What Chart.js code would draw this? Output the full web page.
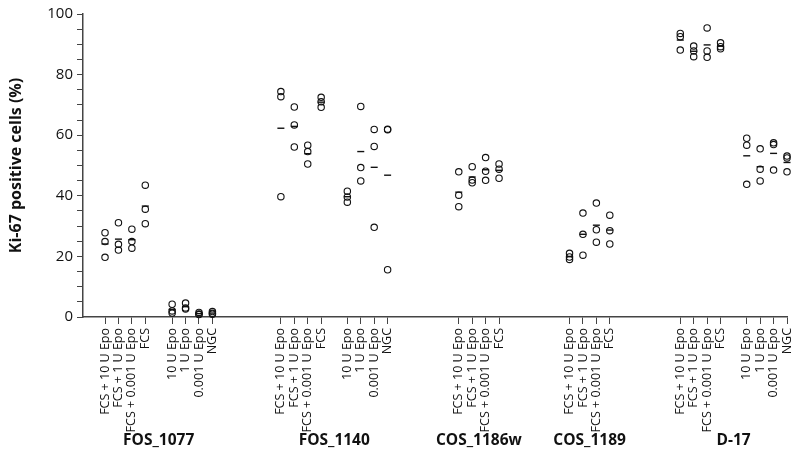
<!DOCTYPE html>
<html>
<head>
<meta charset="utf-8">
<script src="https://cdn.jsdelivr.net/npm/chart.js@4"></script>
<style>
  body { margin: 0; background: #fff; }
  #wrap { width: 800px; height: 460px; }
</style>
</head>
<body>
<div id="wrap"><canvas id="chart"></canvas></div>
<script>
// ── Data ─────────────────────────────────────────────
const groups = ['FOS_1077', 'FOS_1140', 'COS_1186w', 'COS_1189', 'D-17'];
const fcsLabels   = ['FCS + 10 U Epo', 'FCS + 1 U Epo', 'FCS + 0.001 U Epo', 'FCS'];
const noFcsLabels = ['10 U Epo', '1 U Epo', '0.001 U Epo', 'NGC'];

// three replicates per condition
const fos1077 = [[27.8, 24.9, 19.7], [31.1, 24.0, 22.1], [29.0, 24.9, 22.7], [43.5, 35.6, 30.8],
                 [4.2, 2.0, 1.3], [4.6, 3.0, 2.6], [1.5, 1.0, 0.8], [1.8, 1.2, 0.9]];
const fos1140 = [[74.4, 72.7, 39.7], [69.3, 63.4, 56.1], [56.7, 54.6, 50.5], [72.5, 71.0, 69.2],
                 [41.5, 39.6, 37.9], [69.5, 49.3, 44.9], [61.9, 56.3, 29.6], [62.0, 61.8, 15.6]];
const cos1186w = [[47.9, 40.2, 36.4], [49.6, 45.2, 44.3], [52.6, 48.1, 45.1], [50.5, 48.8, 45.8]];
const cos1189  = [[21.0, 19.8, 19.0], [34.3, 27.3, 20.4], [37.6, 28.8, 24.7], [33.6, 28.5, 24.1]];
const d17 = [[93.6, 92.5, 88.1], [89.4, 87.8, 85.9], [95.4, 87.8, 85.7], [90.5, 89.2, 88.5],
             [59.0, 56.7, 43.8], [55.5, 48.8, 44.9], [57.5, 56.9, 48.5], [53.1, 52.5, 47.9]];

// group means (the short dashes)
const means1077  = [24.1, 25.7, 25.5, 36.6, 2.5, 3.4, 1.1, 1.3];
const means1140  = [62.3, 62.9, 53.9, 70.9, 39.7, 54.6, 49.4, 46.8];
const means1186w = [41.2, 46.2, 48.6, 48.4];
const means1189  = [19.9, 27.3, 30.3, 28.7];
const meansD17   = [91.4, 87.7, 89.8, 89.4, 53.2, 49.6, 54.0, 51.0];

const yTicks = [0, 20, 40, 60, 80, 100];

// ── Layout: slot position of each condition on the x axis ──
const groupCats  = [fcsLabels.concat(noFcsLabels), fcsLabels.concat(noFcsLabels), fcsLabels, fcsLabels, fcsLabels.concat(noFcsLabels)];
const groupVals  = [fos1077, fos1140, cos1186w, cos1189, d17];
const groupMeans = [means1077, means1140, means1186w, means1189, meansD17];
const groupStart = [0, 13.1, 26.35, 34.6, 42.85];
const subGap = [2, 1.95, 0, 0, 1.95];  // spacing between FCS block and non-FCS block
const X_MIN = -1.64, X_MAX = 50.8;

const categories = [], slotX = [], catGroup = [];
groupCats.forEach((cats, g) => {
  cats.forEach((c, i) => {
    categories.push(c);
    // round so the last slot doesn't drift past X_MAX (sorted data gets range-culled)
    slotX.push(Math.round((groupStart[g] + i + (i >= 4 ? subGap[g] - 1 : 0)) * 100) / 100);
    catGroup.push(g);
  });
});

const points = [], meanPts = [];
let k = 0;
groupVals.forEach((vals, g) => {
  vals.forEach((reps, i) => {
    reps.forEach(v => points.push({ x: slotX[k], y: v }));
    meanPts.push({ x: slotX[k], y: groupMeans[g][i] });
    k++;
  });
});

Chart.defaults.font.family = '"Open Sans", "Noto Sans", sans-serif';
Chart.defaults.color = '#111';

const AXIS = '#444';

const groupLabels = {
  id: 'groupLabels',
  afterDraw(chart) {
    const { ctx, scales: { x } } = chart;
    ctx.save();
    ctx.font = 'bold 15.5px "Open Sans", "Noto Sans", sans-serif';
    ctx.fillStyle = '#111';
    ctx.textAlign = 'center';
    ctx.textBaseline = 'middle';
    groups.forEach((name, g) => {
      const xs = slotX.filter((_, i) => catGroup[i] === g);
      const mid = (Math.min(...xs) + Math.max(...xs)) / 2;
      ctx.fillText(name, x.getPixelForValue(mid), 441);
    });
    ctx.restore();
  }
};

new Chart(document.getElementById('chart'), {
  type: 'scatter',
  data: {
    datasets: [
      {
        data: meanPts,
        pointStyle: 'line',
        radius: 3.5,
        borderColor: '#111',
        borderWidth: 1.4,
        clip: false,
      },
      {
        data: points,
        pointStyle: 'circle',
        radius: 3.2,
        borderColor: '#111',
        backgroundColor: 'rgba(0,0,0,0)',
        borderWidth: 1.1,
        clip: false,
      },
    ],
  },
  options: {
    responsive: true,
    maintainAspectRatio: false,
    animation: false,
    layout: { padding: { top: 14, right: 13, left: 0, bottom: 0 } },
    plugins: { legend: { display: false }, tooltip: { enabled: false } },
    scales: {
      x: {
        type: 'linear',
        min: X_MIN,
        max: X_MAX,
        grid: { drawOnChartArea: false, tickLength: 7, color: AXIS },
        border: { color: AXIS, width: 1.5 },
        afterBuildTicks: s => { s.ticks = slotX.map(v => ({ value: v })); },
        afterFit: s => { s.height = 143; s.paddingLeft = 0; s.paddingRight = 0; },
        ticks: {
          autoSkip: false,
          minRotation: 90,
          maxRotation: 90,
          padding: 4,
          font: { size: 12.5 },
          callback: (v, i) => categories[i],
        },
      },
      y: {
        min: 0,
        max: 100,
        grid: { drawOnChartArea: false, tickLength: 6, color: AXIS },
        border: { color: AXIS, width: 1.5 },
        afterFit: s => { s.width = 83; },
        ticks: {
          stepSize: 5,
          autoSkip: false,
          padding: 4,
          font: { size: 15 },
          callback: v => (yTicks.includes(v) ? v : ''),
        },
        title: {
          display: true,
          text: 'Ki-67 positive cells (%)',
          font: { size: 16, weight: 'bold' },
          padding: { top: 7, bottom: 0 },
        },
      },
    },
  },
  plugins: [groupLabels],
});
</script>
</body>
</html>
